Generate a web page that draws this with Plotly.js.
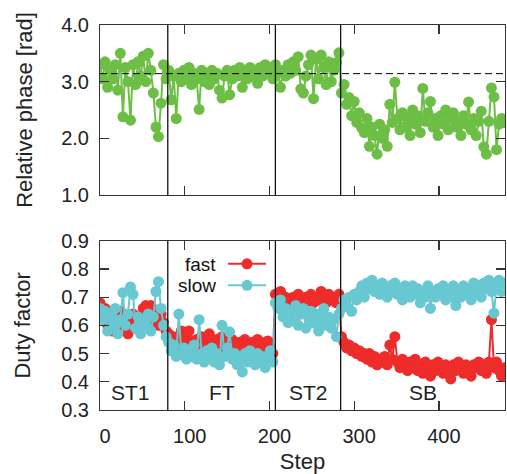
<!DOCTYPE html>
<html><head><meta charset="utf-8">
<script src="https://cdn.plot.ly/plotly-3.0.1.min.js"></script>
<style>html,body{margin:0;padding:0;background:#fff;}#c{width:507px;height:474px;}</style>
</head><body><div id="c"></div>
<script>
const steps = [0,3,6,9,12,15,18,21,24,27,30,33,36,39,42,45,48,51,54,57,60,63,66,69,72,75,78,81,84,87,90,93,96,99,102,105,108,111,114,117,120,123,126,129,132,135,138,141,144,147,150,153,156,159,162,165,168,171,174,177,180,183,186,189,192,195,198,201,204,207,210,213,216,219,222,225,228,231,234,237,240,243,246,249,252,255,258,261,264,267,270,273,276,279,282,285,288,291,294,297,300,303,306,309,312,315,318,321,324,327,330,333,336,339,342,345,348,351,354,357,360,363,366,369,372,375,378,381,384,387,390,393,396,399,402,405,408,411,414,417,420,423,426,429,432,435,438,441,444,447,450,453,456,459,462,465,468,471,474,477];

const phase = [3.30,3.05,3.35,2.90,3.20,3.05,3.30,2.85,3.50,2.38,3.25,3.00,2.32,3.30,2.95,3.35,3.10,3.45,3.00,3.50,3.20,2.80,2.20,2.03,2.62,3.30,3.05,
3.20,2.68,3.10,2.35,3.15,3.00,3.20,3.05,3.25,2.95,3.15,3.05,2.51,3.20,3.00,3.15,2.95,3.20,3.05,3.15,2.85,2.71,3.10,3.20,2.77,3.05,3.20,3.10,3.25,2.90,3.15,3.05,3.25,3.10,3.20,2.97,3.25,3.10,3.30,3.15,3.25,3.05,
3.30,3.15,2.90,3.20,3.10,3.30,3.15,3.35,3.20,3.44,2.87,2.80,3.10,3.30,3.47,2.70,3.40,3.05,3.47,3.25,2.95,3.35,3.00,3.20,3.34,3.51,
2.80,2.95,2.60,2.72,2.40,2.65,2.28,2.45,2.18,2.10,2.35,1.86,2.20,2.05,1.72,2.25,2.00,2.15,1.86,2.60,2.28,2.99,2.35,2.15,2.45,2.20,2.35,2.05,2.50,2.25,2.40,2.10,2.88,2.30,2.45,2.65,2.20,2.35,2.05,2.40,2.25,2.50,2.15,2.35,2.45,2.20,2.30,2.05,2.40,2.25,2.64,2.15,2.35,2.05,2.30,2.48,1.85,1.72,2.30,2.89,2.73,1.80,2.25,2.35,2.28];

const fast = [0.68,0.64,0.66,0.60,0.63,0.58,0.64,0.61,0.65,0.60,0.63,0.57,0.62,0.64,0.59,0.63,0.61,0.66,0.67,0.64,0.67,0.62,0.65,0.60,0.64,0.61,0.58,
0.57,0.54,0.56,0.52,0.55,0.58,0.53,0.56,0.58,0.54,0.52,0.55,0.53,0.56,0.51,0.54,0.57,0.55,0.52,0.55,0.53,0.56,0.51,0.54,0.52,0.55,0.53,0.51,0.54,0.52,0.55,0.53,0.51,0.54,0.52,0.55,0.53,0.51,0.54,0.545,0.52,0.50,
0.71,0.70,0.72,0.68,0.70,0.67,0.69,0.70,0.68,0.71,0.69,0.67,0.70,0.69,0.71,0.68,0.70,0.69,0.72,0.70,0.68,0.71,0.69,0.70,0.68,0.71,
0.56,0.54,0.52,0.53,0.51,0.52,0.50,0.51,0.49,0.50,0.48,0.50,0.47,0.49,0.46,0.48,0.47,0.49,0.46,0.53,0.48,0.56,0.47,0.45,0.48,0.46,0.44,0.47,0.45,0.48,0.44,0.46,0.43,0.47,0.45,0.42,0.46,0.44,0.47,0.45,0.43,0.46,0.44,0.41,0.46,0.44,0.47,0.45,0.43,0.46,0.44,0.42,0.46,0.45,0.47,0.44,0.46,0.43,0.47,0.62,0.45,0.47,0.44,0.42,0.45];

const slow = [0.66,0.62,0.65,0.58,0.63,0.60,0.66,0.57,0.62,0.716,0.60,0.64,0.736,0.71,0.59,0.63,0.57,0.62,0.60,0.64,0.58,0.63,0.72,0.755,0.66,0.60,0.56,
0.54,0.51,0.53,0.49,0.64,0.50,0.52,0.48,0.51,0.49,0.53,0.48,0.62,0.50,0.47,0.51,0.49,0.52,0.47,0.50,0.46,0.60,0.49,0.52,0.577,0.48,0.50,0.46,0.49,0.435,0.50,0.47,0.51,0.48,0.46,0.50,0.47,0.49,0.45,0.48,0.51,0.47,
0.68,0.66,0.69,0.63,0.66,0.61,0.65,0.62,0.67,0.60,0.64,0.66,0.59,0.63,0.65,0.61,0.64,0.58,0.62,0.66,0.60,0.63,0.59,0.62,0.56,0.64,
0.66,0.69,0.67,0.70,0.65,0.71,0.69,0.72,0.74,0.70,0.75,0.73,0.76,0.72,0.74,0.71,0.75,0.73,0.70,0.74,0.72,0.75,0.71,0.73,0.69,0.74,0.72,0.70,0.74,0.71,0.73,0.68,0.72,0.70,0.74,0.66,0.72,0.70,0.73,0.71,0.74,0.69,0.72,0.70,0.74,0.67,0.72,0.70,0.74,0.71,0.73,0.69,0.75,0.72,0.74,0.70,0.75,0.73,0.76,0.72,0.643,0.74,0.76,0.72,0.75];

const phaseRef = Math.PI;
const phaseBoundaries = [80, 207, 284];
const phaseNames = ['ST1', 'FT', 'ST2', 'SB'];
const phaseNameSteps = [36, 144, 246, 381];
const seriesNames = ['fast', 'slow'];

const GREEN = '#6dbe45', RED = '#ee2c2a', CYAN = '#67c8d2';
const FONT = 'Liberation Sans, Arial, sans-serif';

const traces = [
  {x: steps, y: phase, xaxis: 'x', yaxis: 'y', mode: 'lines+markers', showlegend: false,
   line: {color: GREEN, width: 2}, marker: {color: GREEN, size: 11}},
  {x: steps, y: fast, xaxis: 'x2', yaxis: 'y2', mode: 'lines+markers', name: seriesNames[0], showlegend: false,
   line: {color: RED, width: 2}, marker: {color: RED, size: 11}},
  {x: steps, y: slow, xaxis: 'x2', yaxis: 'y2', mode: 'lines+markers', name: seriesNames[1], showlegend: false,
   line: {color: CYAN, width: 2}, marker: {color: CYAN, size: 11}}
];

const axCommon = {
  showline: true, linecolor: '#333', linewidth: 1, mirror: 'allticks',
  ticks: 'inside', ticklen: 9, tickcolor: '#333', tickwidth: 1.2,
  showgrid: false, zeroline: false,
  tickfont: {family: FONT, size: 20, color: '#222'}
};

const shapes = [];
shapes.push({type: 'line', xref: 'x', yref: 'y', x0: 0, x1: 478, y0: phaseRef, y1: phaseRef,
  line: {color: '#000', width: 1, dash: '7px,4px'}});
phaseBoundaries.forEach(b => {
  shapes.push({type: 'line', xref: 'x', yref: 'y domain', x0: b, x1: b, y0: 0, y1: 1, line: {color: '#111', width: 1.3}});
  shapes.push({type: 'line', xref: 'x2', yref: 'y2 domain', x0: b, x1: b, y0: 0, y1: 1, line: {color: '#111', width: 1.3}});
});
// manual legend samples
const legY = [0.818, 0.742];
const legCol = [RED, CYAN];
legY.forEach((yy, k) => {
  shapes.push({type: 'line', xref: 'x2', yref: 'y2', x0: 151, x1: 196, y0: yy, y1: yy, line: {color: legCol[k], width: 2}});
  shapes.push({type: 'circle', xref: 'x2', yref: 'y2', xsizemode: 'pixel', ysizemode: 'pixel',
    xanchor: 173.5, yanchor: yy, x0: -5.5, x1: 5.5, y0: -5.5, y1: 5.5, fillcolor: legCol[k], line: {width: 0}});
});

const annotations = phaseNames.map((n, i) => ({
  text: n, x: phaseNameSteps[i], y: 0.362, xref: 'x2', yref: 'y2', showarrow: false,
  font: {family: FONT, size: 21, color: '#222'}
}));
seriesNames.forEach((n, k) => annotations.push({
  text: n, x: 138, y: legY[k], xref: 'x2', yref: 'y2', xanchor: 'right', showarrow: false,
  height: 18, borderpad: 0,
  font: {family: FONT, size: 19, color: '#111'}
}));

const layout = {
  width: 507, height: 474,
  margin: {l: 100, r: 2, t: 25, b: 64},
  paper_bgcolor: '#fff', plot_bgcolor: '#fff',
  showlegend: false,
  xaxis: Object.assign({}, axCommon, {domain: [0, 1], range: [0, 478], anchor: 'y', showticklabels: false,
    tickvals: [0, 100, 200, 300, 400]}),
  yaxis: Object.assign({}, axCommon, {domain: [0.5584, 1], range: [1.0, 4.0], anchor: 'x',
    tickvals: [1, 2, 3, 4], tickformat: '.1f', ticklabelstandoff: 6,
    title: {text: 'Relative phase [rad]', font: {family: FONT, size: 22, color: '#222'}, standoff: 22}}),
  xaxis2: Object.assign({}, axCommon, {domain: [0, 1], range: [0, 478], anchor: 'y2',
    tickvals: [0, 100, 200, 300, 400], ticklabelstandoff: 8, ticklabelshift: 5,
    title: {text: 'Step', font: {family: FONT, size: 22, color: '#222'}, standoff: 7}}),
  yaxis2: Object.assign({}, axCommon, {domain: [0, 0.4397], range: [0.3, 0.9], anchor: 'x2',
    tickvals: [0.3, 0.4, 0.5, 0.6, 0.7, 0.8, 0.9], tickformat: '.1f', ticklabelstandoff: 6,
    title: {text: 'Duty factor', font: {family: FONT, size: 22, color: '#222'}, standoff: 24}}),
  shapes: shapes,
  annotations: annotations
};

Plotly.newPlot('c', traces, layout, {displayModeBar: false, staticPlot: true});
</script>
</body></html>
